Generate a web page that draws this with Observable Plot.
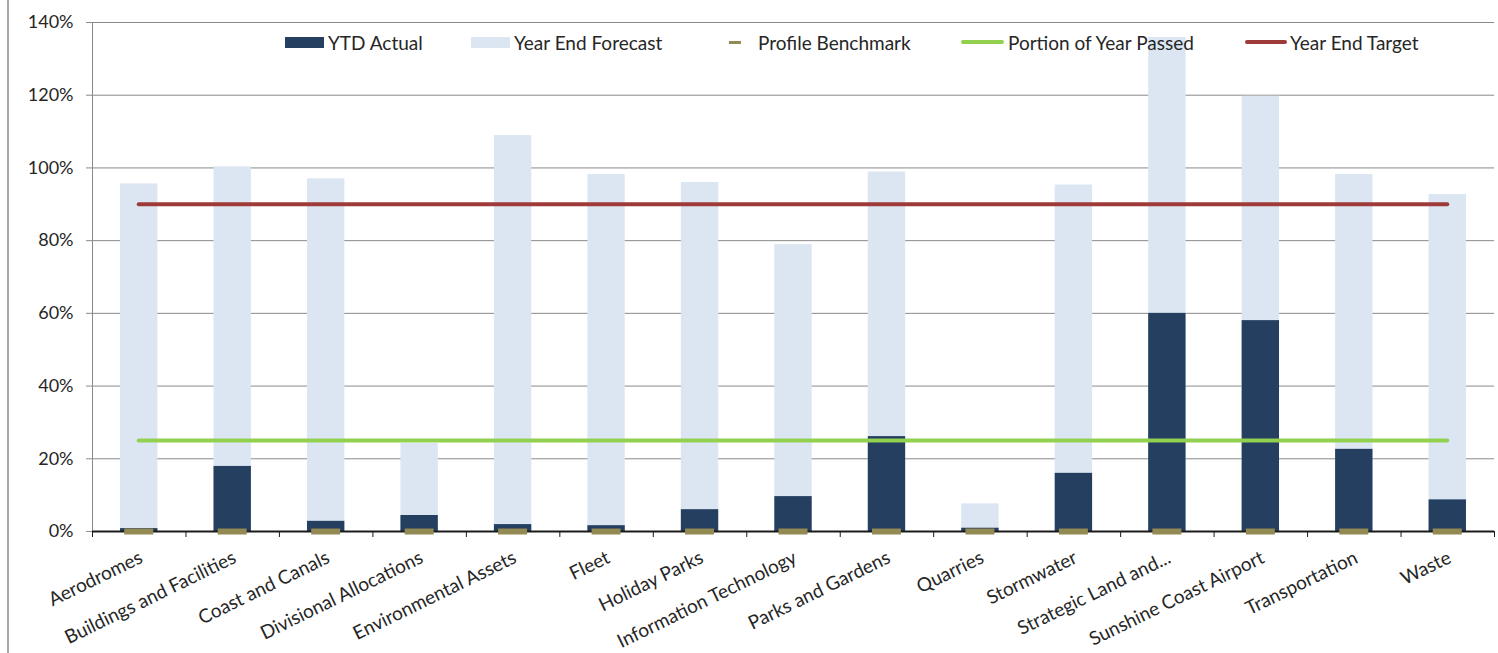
<!DOCTYPE html>
<html>
<head>
<meta charset="utf-8">
<script src="https://cdn.jsdelivr.net/npm/d3@7"></script>
<script src="https://cdn.jsdelivr.net/npm/@observablehq/plot@0.6"></script>
<style>
  body { margin: 0; background: #fff; }
  #wrap { position: relative; width: 1498px; height: 653px; overflow: hidden; font-family: Lato, sans-serif; }
  #frame { position: absolute; left: 7px; top: 0; width: 2px; height: 653px; background: #a6a6a6; }
  .leg { position: absolute; top: 32px; height: 20px; display: flex; align-items: center; font: 19px Lato, sans-serif; color: #262626; white-space: nowrap; }
  .sw { display: inline-block; }
</style>
</head>
<body>
<div id="wrap"><div id="frame"></div></div>
<script>
// ---- data ----
const categories = ["Aerodromes", "Buildings and Facilities", "Coast and Canals", "Divisional Allocations",
  "Environmental Assets", "Fleet", "Holiday Parks", "Information Technology", "Parks and Gardens",
  "Quarries", "Stormwater", "Strategic Land and...", "Sunshine Coast Airport", "Transportation", "Waste"];
const ytdActual =       [0.8, 17.9, 2.8, 4.4, 1.9, 1.6, 6.0, 9.6, 26.1, 0.9, 16.0, 60.0, 58.0, 22.6, 8.7];
const yearEndForecast = [95.6, 100.3, 97.0, 24.2, 108.9, 98.2, 96.0, 78.9, 98.9, 7.6, 95.3, 135.9, 119.7, 98.2, 92.7];
const profileBenchmark = [0, 0, 0, 0, 0, 0, 0, 0, 0, 0, 0, 0, 0, 0, 0];
const portionOfYearPassed = [25];
const yearEndTarget = [90];
const yTicks = [0, 20, 40, 60, 80, 100, 120, 140];
const seriesNames = ["YTD Actual", "Year End Forecast", "Profile Benchmark", "Portion of Year Passed", "Year End Target"];

// ---- styles ----
const C = { actual: "#243F60", forecast: "#DCE6F2", bench: "#938953", passed: "#92D050", target: "#9E3A38", grid: "#8a8a8a", text: "#262626" };
const legendLayout = [
  { left: 285, kind: "box", w: 39, color: C.actual, gap: 4 },
  { left: 471, kind: "box", w: 39, color: C.forecast, gap: 4 },
  { left: 729, kind: "dash", w: 12, color: C.bench, gap: 17 },
  { left: 961, kind: "line", w: 43, color: C.passed, gap: 4 },
  { left: 1245, kind: "line", w: 42, color: C.target, gap: 3 }
];

const rows = categories.map((c, i) => ({ i, category: c, actual: ytdActual[i], forecast: yearEndForecast[i], bench: profileBenchmark[i] }));
const n = categories.length;

const chart = Plot.plot({
  width: 1498,
  height: 653,
  marginLeft: 92,
  marginRight: 4,
  marginTop: 22,
  marginBottom: 122,
  style: { fontFamily: "Lato, sans-serif", fontSize: "19px", color: C.text, background: "transparent" },
  x: { type: "linear", domain: [0, n], axis: null },
  y: { domain: [0, 140], axis: null },
  marks: [
    Plot.gridY(yTicks, { stroke: C.grid, strokeOpacity: 1 }),
    Plot.axisY(yTicks, { tickFormat: d => d + "%", tickSize: 6, tickPadding: 13, stroke: C.grid, fontSize: 18 }),
    Plot.ruleX([0], { stroke: C.grid }),
    Plot.rect(rows, { x1: d => d.i + 0.3, x2: d => d.i + 0.7, y1: 0, y2: "forecast", fill: C.forecast }),
    Plot.rect(rows, { x1: d => d.i + 0.3, x2: d => d.i + 0.7, y1: 0, y2: "actual", fill: C.actual }),
    Plot.ruleY(portionOfYearPassed, { x1: 0.5, x2: n - 0.5, stroke: C.passed, strokeWidth: 4, strokeLinecap: "round" }),
    Plot.ruleY(yearEndTarget, { x1: 0.5, x2: n - 0.5, stroke: C.target, strokeWidth: 4, strokeLinecap: "round" }),
    Plot.ruleY([0], { stroke: "#1a1a1a", strokeWidth: 2 }),
    Plot.axisX(d3.range(n + 1), { tickSize: 6, tickFormat: () => "", stroke: "#1a1a1a" }),
    Plot.ruleY(rows, { x1: d => d.i + 0.345, x2: d => d.i + 0.655, y: "bench", stroke: C.bench, strokeWidth: 6 }),
    Plot.axisX(rows.map(d => d.i + 0.5), { tickSize: 0, tickPadding: 25, tickRotate: -26, tickFormat: v => categories[Math.floor(v)], fontSize: 19, dx: 2 })
  ]
});
const wrap = document.getElementById("wrap");
chart.style.position = "absolute";
chart.style.left = "0";
chart.style.top = "0";
wrap.appendChild(chart);

// legend (HTML overlay)
seriesNames.forEach((name, k) => {
  const L = legendLayout[k];
  const item = document.createElement("div");
  item.className = "leg";
  item.style.left = L.left + "px";
  const sw = document.createElement("span");
  sw.className = "sw";
  sw.style.width = L.w + "px";
  sw.style.marginRight = L.gap + "px";
  sw.style.background = L.color;
  if (L.kind === "box") { sw.style.height = "11px"; }
  else if (L.kind === "dash") { sw.style.height = "3px"; }
  else { sw.style.height = "4px"; sw.style.borderRadius = "2px"; }
  item.appendChild(sw);
  const t = document.createElement("span");
  t.textContent = name;
  item.appendChild(t);
  wrap.appendChild(item);
});
</script>
</body>
</html>
